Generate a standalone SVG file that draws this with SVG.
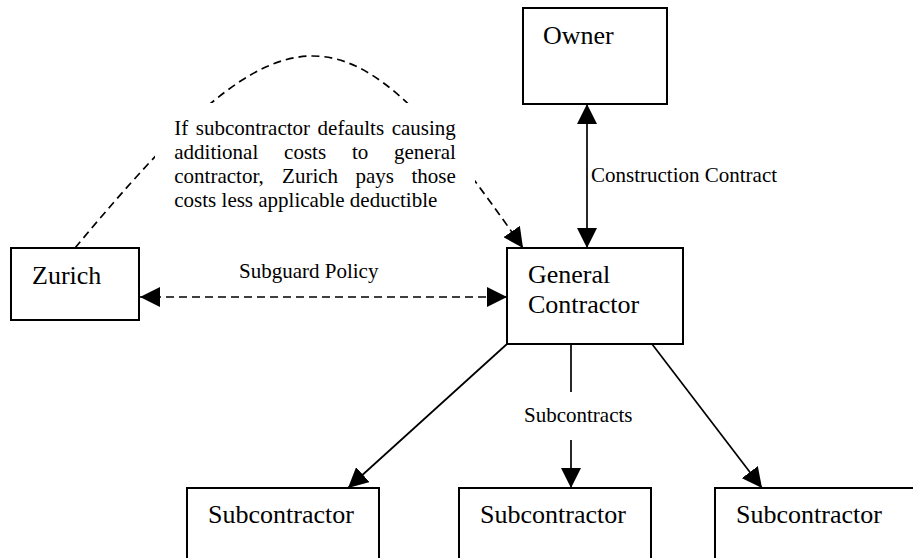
<svg xmlns="http://www.w3.org/2000/svg" width="913" height="558" viewBox="0 0 913 558">
<style>
.box{fill:#fff;stroke:#000;stroke-width:2}
.lbl{font-family:"Liberation Serif","Times New Roman",serif;font-size:26px;fill:#000}
.sm{font-family:"Liberation Serif","Times New Roman",serif;font-size:21px;fill:#000}
.ln{fill:none;stroke:#000;stroke-width:1.7}
.dash{stroke-dasharray:8 5}
</style>
<defs>
<marker id="ah" markerUnits="userSpaceOnUse" markerWidth="20" markerHeight="20" refX="20" refY="10" orient="auto-start-reverse" viewBox="0 0 20 20">
<path d="M0,0 L20,10 L0,20 z" fill="#000" stroke="none"/>
</marker>
<mask id="txtgap" maskUnits="userSpaceOnUse" x="0" y="0" width="913" height="558">
<rect x="0" y="0" width="913" height="558" fill="#fff"/>
<rect x="155" y="103" width="320" height="112" fill="#000"/>
</mask>
</defs>

<g id="connectors">
<path class="ln dash" d="M75,248 C288,-8 346,-8 523,248" mask="url(#txtgap)" marker-end="url(#ah)"/>
<line class="ln" x1="587" y1="104" x2="587" y2="248" marker-start="url(#ah)" marker-end="url(#ah)"/>
<line class="ln dash" x1="140" y1="297" x2="507" y2="297" marker-start="url(#ah)" marker-end="url(#ah)"/>
<line class="ln" x1="507" y1="344" x2="348" y2="488" marker-end="url(#ah)"/>
<line class="ln" x1="652" y1="344" x2="762" y2="488" marker-end="url(#ah)"/>
<line class="ln" x1="571" y1="344" x2="571" y2="392"/>
<line class="ln" x1="571" y1="440" x2="571" y2="488" marker-end="url(#ah)"/>
<text class="sm" x="591" y="182">Construction Contract</text>
<text class="sm" x="239" y="278">Subguard Policy</text>
<text class="sm" x="524" y="422">Subcontracts</text>
</g>

<g id="note">
<text class="sm" y="135"><tspan x="174.3">If</tspan><tspan x="195.8">subcontractor</tspan><tspan x="317.6">defaults</tspan><tspan x="455.8" text-anchor="end">causing</tspan></text>
<text class="sm" y="159"><tspan x="174.3">additional</tspan><tspan x="284.1">costs</tspan><tspan x="351.9">to</tspan><tspan x="455.8" text-anchor="end">general</tspan></text>
<text class="sm" y="183"><tspan x="174.3">contractor,</tspan><tspan x="282.1">Zurich</tspan><tspan x="355.5">pays</tspan><tspan x="455.8" text-anchor="end">those</tspan></text>
<text class="sm" x="174.3" y="207">costs less applicable deductible</text>
</g>

<g id="owner">
<rect class="box" x="523" y="8" width="144" height="96"/>
<text class="lbl" x="543" y="44">Owner</text>
</g>

<g id="general-contractor">
<rect class="box" x="507" y="248" width="176" height="96"/>
<text class="lbl" x="528" y="283">General</text>
<text class="lbl" x="528" y="313">Contractor</text>
</g>

<g id="zurich">
<rect class="box" x="11" y="248" width="128" height="72"/>
<text class="lbl" x="32" y="284">Zurich</text>
</g>

<g id="subcontractor-1">
<rect class="box" x="187" y="488" width="192" height="100"/>
<text class="lbl" x="208" y="523">Subcontractor</text>
</g>

<g id="subcontractor-2">
<rect class="box" x="459" y="488" width="192" height="100"/>
<text class="lbl" x="480" y="523">Subcontractor</text>
</g>

<g id="subcontractor-3">
<rect class="box" x="715" y="488" width="220" height="100"/>
<text class="lbl" x="736" y="523">Subcontractor</text>
</g>
</svg>
